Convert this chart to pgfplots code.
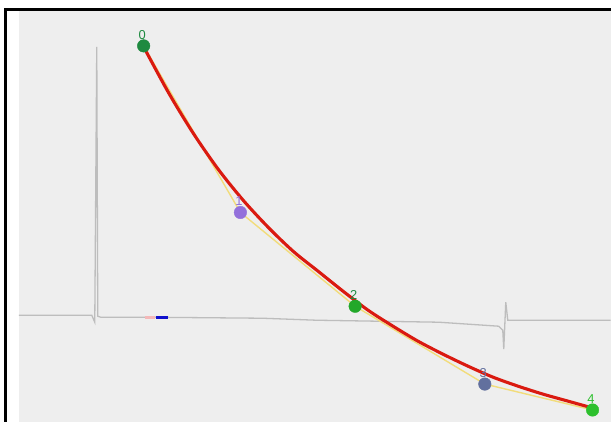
\documentclass[border=0pt]{standalone}
\usepackage{pgfplots}
\pgfplotsset{compat=1.18}
\usepackage{fontspec}
\setmainfont{Liberation Sans}
\definecolor{bgc}{HTML}{EEEEEE}
\definecolor{trace}{HTML}{BDBDBD}
\definecolor{fitred}{HTML}{DA1A10}
\definecolor{polyy}{HTML}{F2DC7A}
\definecolor{c0}{HTML}{1E8A40}
\definecolor{c1}{HTML}{9370DB}
\definecolor{c2}{HTML}{22A82A}
\definecolor{c3}{HTML}{62709E}
\definecolor{c4}{HTML}{2DC02D}
\definecolor{pinkm}{HTML}{F4B8B8}
\definecolor{bluem}{HTML}{1010CC}
\begin{document}
\begin{tikzpicture}
\begin{axis}[
  scale only axis, width=612bp, height=423bp,
  xmin=0, xmax=612, ymin=0, ymax=423, y dir=reverse,
  hide axis, clip=false,
  every node near coord/.append style={font=\fontsize{13}{14}\selectfont, anchor=base, inner sep=0pt, yshift=6.5bp, xshift=-1.5bp},
]
% page and panel background
\fill[white] (axis cs:0,0) rectangle (axis cs:612,423);
\fill[bgc] (axis cs:19,11) rectangle (axis cs:612,423);
\draw[black, line width=3bp] (axis cs:6,423) -- (axis cs:6,10) -- (axis cs:612,10);
% gray trace
\addplot[trace, line width=1.3bp] coordinates {
 (19,316) (92,316) (95,323) (97,47) (98,317) (101,318) (150,318) (263,319)
 (317,321) (440,323) (470,325) (500,327) (504,331) (505,350) (507,303) (509,321) (612,321)};
% small markers on baseline
\addplot[pinkm, line width=3bp] coordinates {(145,318) (155,318)};
\addplot[bluem, line width=3bp] coordinates {(156,318) (168,318)};
% polyline through points
\addplot[polyy, line width=1.4bp] coordinates {(144,46) (241,213) (356,307) (486,385) (594,411)};
% fitted curve
\addplot[fitred, line width=3.1bp, smooth] coordinates {
 (144,47) (169,93) (194,134) (219,170) (244,201) (269,228) (294,252) (319,272)
 (344,292) (369,311) (394,327) (419,342) (444,355) (469,367) (494,378) (519,387)
 (544,395) (569,402) (594,409)};
% points
\addplot[only marks, mark=*, mark size=6.3bp, c0, nodes near coords={0}, every node near coord/.append style={text=c0}] coordinates {(144,46)};
\addplot[only marks, mark=*, mark size=6.3bp, c1, nodes near coords={1}, every node near coord/.append style={text=c1}] coordinates {(241,213)};
\addplot[only marks, mark=*, mark size=6.3bp, c2, nodes near coords={2}, every node near coord/.append style={text=c0}] coordinates {(356,307)};
\addplot[only marks, mark=*, mark size=6.3bp, c3, nodes near coords={3}, every node near coord/.append style={text=c3}] coordinates {(486,385)};
\addplot[only marks, mark=*, mark size=6.3bp, c4, nodes near coords={4}, every node near coord/.append style={text=c4}] coordinates {(594,411)};
\end{axis}
\end{tikzpicture}
\end{document}
